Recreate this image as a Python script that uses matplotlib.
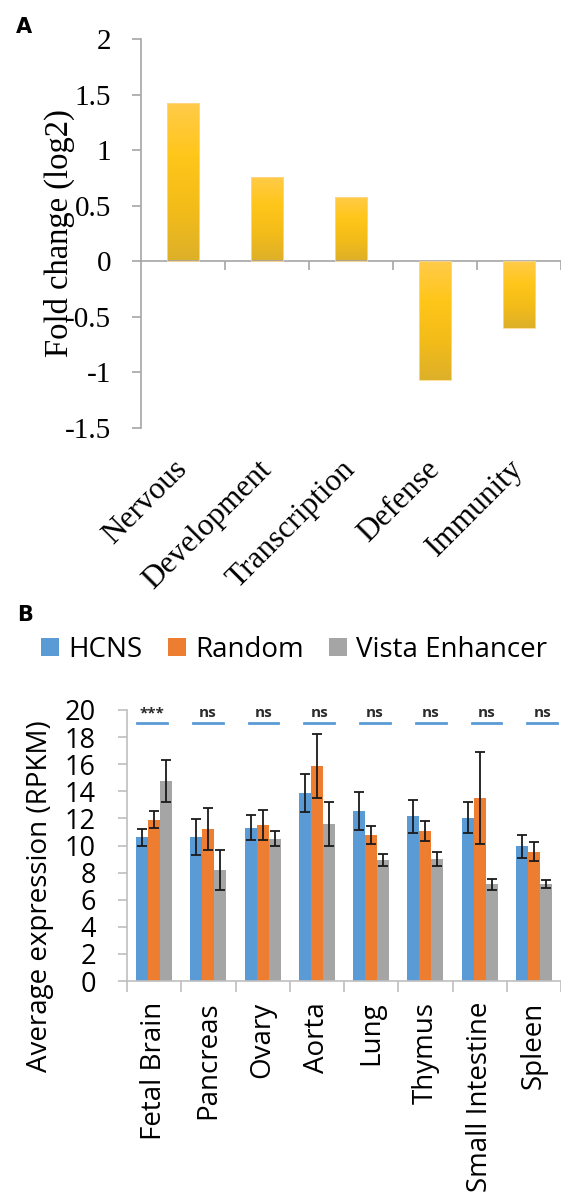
import matplotlib
matplotlib.use("Agg")
import matplotlib.pyplot as plt
import numpy as np
from matplotlib.colors import LinearSegmentedColormap
import matplotlib.transforms as mtransforms

# panel A data
terms = ["Nervous", "Development", "Transcription", "Defense", "Immunity"]
fold_change = [1.42, 0.76, 0.58, -1.07, -0.60]
a_ticks = [-1.5, -1, -0.5, 0, 0.5, 1, 1.5, 2]
a_ticklabels = ["-1.5", "-1", "-0.5", "0", "0.5", "1", "1.5", "2"]

# panel B data
tissues = ["Fetal Brain", "Pancreas", "Ovary", "Aorta", "Lung", "Thymus",
           "Small Intestine", "Spleen"]
hcns = [10.6, 10.65, 11.3, 13.85, 12.55, 12.15, 12.05, 9.95]
hcns_err = [0.6, 1.33, 0.93, 1.4, 1.37, 1.2, 1.16, 0.84]
random_ = [11.9, 11.25, 11.5, 15.9, 10.75, 11.1, 13.5, 9.55]
random_err = [0.64, 1.55, 1.13, 2.36, 0.66, 0.74, 3.4, 0.72]
vista = [14.75, 8.2, 10.5, 11.6, 8.95, 9.0, 7.15, 7.15]
vista_err = [1.57, 1.5, 0.56, 1.62, 0.44, 0.49, 0.4, 0.3]
signif = ["***", "ns", "ns", "ns", "ns", "ns", "ns", "ns"]

W, H = 561, 1194
fig = plt.figure(figsize=(W / 100, H / 100), dpi=100)

def box(l, t, r, b):
    return [l / W, 1 - b / H, (r - l) / W, (b - t) / H]

serif = "Liberation Serif"
sans = "Open Sans"
axis_gray = "#A6A6A6"

# ---------------- panel A ----------------
ax = fig.add_axes(box(141, 39, 561, 428))
x = np.arange(len(terms))
bars = ax.bar(x, fold_change, width=0.39, color="none", edgecolor="#FFD98A", linewidth=0.6, zorder=3)
cmap = LinearSegmentedColormap.from_list("gold", ["#FFCB4A", "#FFC61A", "#F3BC18", "#DDB02A"])
grad = np.linspace(0, 1, 256).reshape(-1, 1)
for b in bars:
    x0, y0 = b.get_x(), b.get_y()
    w, h = b.get_width(), b.get_height()
    im = ax.imshow(grad, extent=[x0, x0 + w, min(y0, y0 + h), max(y0, y0 + h)],
                   aspect="auto", cmap=cmap, origin="upper", zorder=2)
    im.set_clip_path(b)

ax.set_xlim(-0.5, len(terms) - 0.5)
ax.set_ylim(-1.5, 2)
ax.set_yticks(a_ticks)
ax.set_yticklabels(a_ticklabels, fontfamily=serif, fontsize=21)
for s in ["top", "right"]:
    ax.spines[s].set_visible(False)
ax.spines["bottom"].set_position(("data", 0))
for s in ["left", "bottom"]:
    ax.spines[s].set_color(axis_gray)
    ax.spines[s].set_linewidth(1.2)
ax.tick_params(axis="y", length=6.5, color=axis_gray, width=1.2, pad=15)
ax.set_xticks([])
ax.set_xticks(np.arange(0.5, len(terms), 1), minor=True)
ax.tick_params(axis="x", which="minor", length=6.5, color=axis_gray, width=1.2, direction="out")
trans = mtransforms.blended_transform_factory(ax.transData, ax.transAxes)
for i, t in enumerate(terms):
    ax.text(i, -0.095, t, transform=trans, rotation=45, ha="right", va="center",
            rotation_mode="anchor", fontfamily=serif, fontsize=22.5)
fig.text(59 / W, 1 - 233 / H, "Fold change (log2)", rotation=90, ha="center", va="center",
         fontfamily=serif, fontsize=23.5)
fig.text(24 / W, 1 - 27 / H, "A", fontfamily="DejaVu Sans", fontweight="bold", fontsize=15,
         ha="center", va="center")

# ---------------- panel B ----------------
bx = fig.add_axes(box(127, 710, 561, 981))
xb = np.arange(len(tissues))
bw = 0.22
colors = ["#5B9BD5", "#ED7D31", "#A5A5A5"]
series = [("HCNS", hcns, hcns_err), ("Random", random_, random_err),
          ("Vista Enhancer", vista, vista_err)]
for k, (name, vals, errs) in enumerate(series):
    bx.bar(xb + (k - 1) * bw, vals, width=bw, color=colors[k], label=name, zorder=2,
           yerr=errs, error_kw=dict(ecolor="#1a1a1a", elinewidth=1.3, capsize=3.8, capthick=1.3))

bx.set_xlim(-0.5, len(tissues) - 0.5)
bx.set_ylim(0, 20)
bx.set_yticks(np.arange(0, 21, 2))
bx.set_yticklabels([str(v) for v in range(0, 21, 2)], fontfamily=sans, fontsize=19.5)
for s in ["top", "right"]:
    bx.spines[s].set_visible(False)
for s in ["left", "bottom"]:
    bx.spines[s].set_color("#BFBFBF")
    bx.spines[s].set_linewidth(1.2)
bx.tick_params(axis="y", length=6.5, color="#BFBFBF", width=1.2, pad=16)
bx.set_xticks(xb)
bx.set_xticklabels(tissues, rotation=90, fontfamily=sans, fontsize=20, va="top")
bx.tick_params(axis="x", which="major", length=0, pad=15)
bx.set_xticks(np.arange(-0.5, len(tissues), 1), minor=True)
bx.tick_params(axis="x", which="minor", length=8, color="#BFBFBF", width=1.2)

# significance marks sit on their own slightly wider spacing
sig_x = np.arange(len(signif)) * 1.028 - 0.04
for xs, s in zip(sig_x, signif):
    bx.plot([xs - 0.275, xs + 0.275], [19.06, 19.06], color="#5B9BD5", lw=2, clip_on=False, zorder=3)
    bx.text(xs, 19.75, s, ha="center", va="center", fontfamily=sans, fontweight="bold",
            fontsize=11, color="#2b2b2b", clip_on=False)

fig.text(40 / W, 1 - 896 / H, "Average expression (RPKM)", rotation=90, ha="center", va="center",
         fontfamily=sans, fontsize=20)
fig.legend(loc="center left", bbox_to_anchor=(41 / W, 1 - 650 / H), ncol=3, frameon=False,
           prop={"family": sans, "size": 20}, handlelength=0.65, handleheight=0.62,
           handletextpad=0.32, columnspacing=0.93, borderaxespad=0, borderpad=0)
fig.text(25 / W, 1 - 615 / H, "B", fontfamily="DejaVu Sans", fontweight="bold", fontsize=15,
         ha="center", va="center")

fig.savefig("out.png", dpi=100)
